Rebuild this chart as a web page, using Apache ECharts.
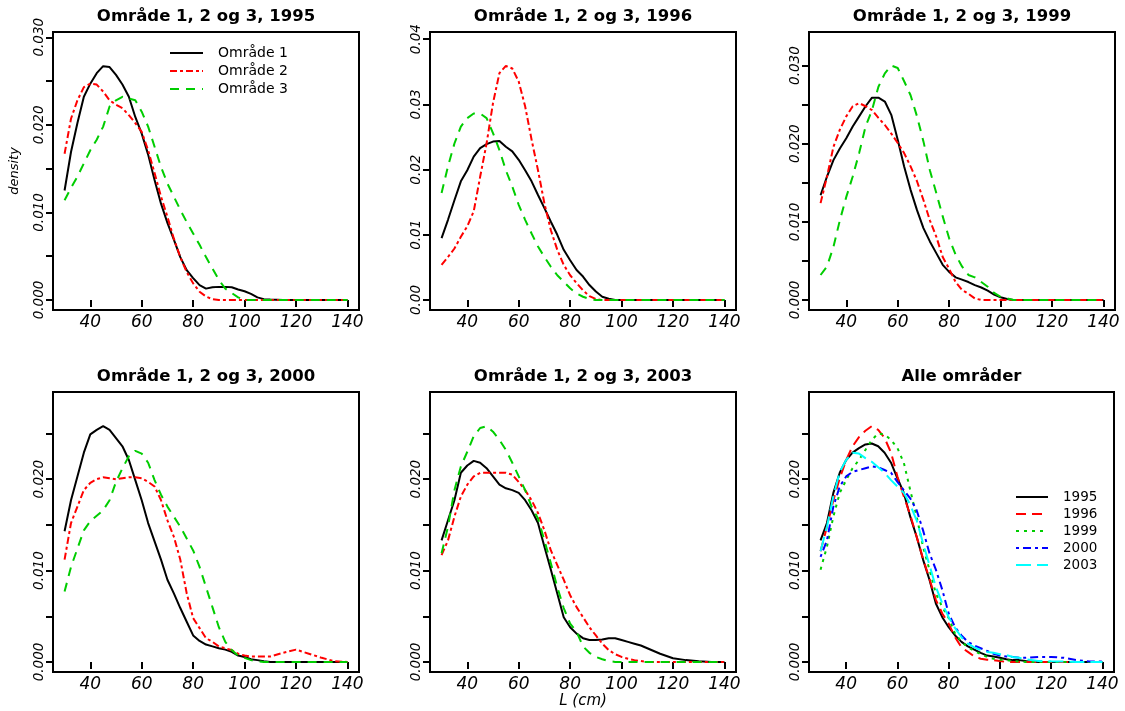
<!DOCTYPE html>
<html><head><meta charset="utf-8">
<script src="https://cdn.jsdelivr.net/npm/echarts@6/dist/echarts.min.js"></script>
<style>html,body{margin:0;padding:0;background:#fff}#c{width:1125px;height:711px}</style>
</head><body><div id="c"></div><script>
// L (cm) sample positions
const xs = [30,32.5,35,37.5,40,42.5,45,47.5,50,52.5,55,57.5,60,62.5,65,67.5,70,72.5,75,77.5,80,82.5,85,87.5,90,92.5,95,97.5,100,102.5,105,107.5,110,115,120,125,130,135,140];

// 1995
const d1995_o1 = [0.0125,0.0169,0.0202,0.0232,0.0247,0.0259,0.0267,0.0266,0.0257,0.0246,0.0232,0.0209,0.0190,0.0166,0.0137,0.0110,0.0088,0.0069,0.0049,0.0034,0.0025,0.0017,0.0013,0.00145,0.0015,0.0015,0.00145,0.0012,0.0010,0.0007,0.0003,0.0001,0.00005,0,0,0,0,0,0];
const d1995_o2 = [0.0167,0.0207,0.0228,0.0243,0.0247,0.0246,0.0238,0.0228,0.0223,0.0219,0.0211,0.0202,0.0192,0.0171,0.0145,0.0118,0.0095,0.0070,0.0049,0.0032,0.0019,0.00095,0.0004,0.0001,0,0,0,0,0,0,0,0,0,0,0,0,0,0,0];
const d1995_o3 = [0.0114,0.0128,0.0141,0.0156,0.0171,0.0183,0.0198,0.0221,0.0228,0.0232,0.0230,0.0228,0.0215,0.0198,0.0175,0.0152,0.0133,0.0118,0.0103,0.0089,0.0076,0.0063,0.0049,0.0036,0.0023,0.0013,0.0008,0.0003,0,0,0,0,0,0,0,0,0,0,0];
// 1996
const d1996_o1 = [0.0095,0.0123,0.0153,0.0182,0.0199,0.0220,0.0233,0.0239,0.0243,0.0244,0.0235,0.0228,0.0215,0.0199,0.0182,0.0161,0.0141,0.0120,0.0100,0.0077,0.0061,0.0046,0.0036,0.0023,0.0013,0.0005,0.0002,0,0,0,0,0,0,0,0,0,0,0,0];
const d1996_o2 = [0.0054,0.0066,0.0079,0.0097,0.0113,0.0136,0.0189,0.0240,0.0302,0.0348,0.0359,0.0355,0.0335,0.0297,0.0246,0.0199,0.0148,0.0107,0.0077,0.0054,0.0038,0.0026,0.0015,0.0006,0.00015,0,0,0,0,0,0,0,0,0,0,0,0,0,0];
const d1996_o3 = [0.0164,0.0205,0.0240,0.0266,0.0279,0.0286,0.0286,0.0279,0.0256,0.0230,0.0199,0.0174,0.0146,0.0123,0.0102,0.0082,0.0066,0.0051,0.0038,0.0028,0.0018,0.0010,0.0005,0.00015,0,0,0,0,0,0,0,0,0,0,0,0,0,0,0];
// 1999
const d1999_o1 = [0.0134,0.0158,0.0179,0.0194,0.0207,0.0222,0.0235,0.0248,0.0259,0.0259,0.0254,0.0237,0.0205,0.0171,0.0141,0.0115,0.0092,0.0075,0.0060,0.0045,0.0036,0.0029,0.0026,0.0023,0.0019,0.0016,0.0012,0.0007,0.00035,0.00013,0,0,0,0,0,0,0,0,0];
const d1999_o2 = [0.0124,0.0158,0.0196,0.0218,0.0235,0.0248,0.0252,0.0248,0.0243,0.0233,0.0224,0.0213,0.0201,0.0188,0.0171,0.0152,0.0128,0.0102,0.0081,0.0055,0.0040,0.0023,0.0013,0.0008,0.0002,0,0,0,0,0,0,0,0,0,0,0,0,0,0];
const d1999_o3 = [0.0032,0.0043,0.0068,0.0102,0.0132,0.0158,0.0188,0.0222,0.0243,0.0273,0.0290,0.0300,0.0297,0.0280,0.0262,0.0235,0.0203,0.0166,0.0137,0.0107,0.0079,0.0058,0.0043,0.0032,0.0029,0.0023,0.0017,0.0009,0.0004,0.0002,0,0,0,0,0,0,0,0,0];
// 2000
const d2000_o1 = [0.0143,0.0177,0.0203,0.0229,0.0249,0.0254,0.0258,0.0254,0.0245,0.0236,0.0221,0.0199,0.0177,0.0152,0.0132,0.0112,0.0090,0.0075,0.0059,0.0044,0.0029,0.0023,0.0019,0.0017,0.0015,0.00135,0.0011,0.0007,0.00055,0.0003,0.0002,0.00007,0,0,0,0,0,0,0];
const d2000_o2 = [0.0112,0.0152,0.0170,0.0188,0.0196,0.0200,0.0202,0.0201,0.0200,0.0201,0.0202,0.0202,0.0201,0.0197,0.0192,0.0177,0.0155,0.0137,0.0112,0.0075,0.0048,0.0037,0.0026,0.0022,0.0017,0.0015,0.0013,0.0009,0.0007,0.0006,0.0006,0.0006,0.0006,0.0010,0.00135,0.0009,0.00045,0.00007,0];
const d2000_o3 = [0.0077,0.0104,0.0124,0.0144,0.0154,0.0160,0.0166,0.0177,0.0197,0.0212,0.0225,0.0231,0.0228,0.0218,0.0199,0.0183,0.0170,0.0159,0.0148,0.0135,0.0122,0.0104,0.0082,0.0060,0.0038,0.0022,0.0013,0.0007,0.00045,0.0002,0.00007,0,0,0,0,0,0,0,0];
// 2003
const d2003_o1 = [0.0133,0.0155,0.0177,0.0207,0.0215,0.0220,0.0218,0.0212,0.0203,0.0194,0.0190,0.0188,0.0185,0.0177,0.0166,0.0152,0.0126,0.0101,0.0075,0.0049,0.0038,0.0031,0.0026,0.0024,0.0024,0.00245,0.0026,0.0026,0.0024,0.0022,0.0020,0.0018,0.0015,0.0009,0.0004,0.0002,0.00007,0,0];
const d2003_o2 = [0.0117,0.0133,0.0159,0.0181,0.0194,0.0203,0.0207,0.0207,0.0207,0.0207,0.0207,0.0205,0.0197,0.0188,0.0177,0.0163,0.0144,0.0122,0.0106,0.0090,0.0073,0.0060,0.0049,0.0038,0.0029,0.0020,0.0013,0.00085,0.00055,0.00035,0.0002,0.0001,0,0,0,0,0,0,0];
const d2003_o3 = [0.0119,0.0148,0.0188,0.0214,0.0230,0.0247,0.0256,0.0258,0.0252,0.0243,0.0232,0.0218,0.0203,0.0188,0.0170,0.0157,0.0133,0.0108,0.0082,0.0059,0.0042,0.0033,0.0017,0.0010,0.00055,0.0003,0.0001,0,0,0,0,0,0,0,0,0,0,0,0];
// all areas
const all1995 = [0.0133,0.0152,0.0185,0.0207,0.0221,0.0229,0.0234,0.0238,0.0239,0.0236,0.0229,0.0218,0.0201,0.0185,0.0159,0.0137,0.0112,0.0090,0.0064,0.0049,0.0038,0.0029,0.0022,0.0017,0.00135,0.0010,0.0007,0.0006,0.00045,0.0003,0.0002,0.0002,0.0001,0,0,0,0,0,0];
const all1996 = [0.0121,0.0148,0.0177,0.0201,0.0221,0.0236,0.0246,0.0253,0.0258,0.0254,0.0245,0.0229,0.0203,0.0181,0.0161,0.0137,0.0113,0.0091,0.0068,0.0053,0.0042,0.0027,0.0016,0.0011,0.0006,0.00035,0.00025,0.0002,0.0001,0,0,0,0,0,0,0,0,0,0];
const all1999 = [0.0101,0.0126,0.0159,0.0185,0.0199,0.0212,0.0221,0.0232,0.0243,0.0250,0.0249,0.0243,0.0234,0.0218,0.0188,0.0159,0.0126,0.0101,0.0075,0.0060,0.0048,0.0031,0.0022,0.0016,0.0012,0.00085,0.00055,0.00035,0.00025,0.0002,0.0001,0.00005,0,0,0,0,0,0,0];
const all2000 = [0.0115,0.0133,0.0170,0.0192,0.0203,0.0208,0.0210,0.0212,0.0214,0.0213,0.0210,0.0207,0.0197,0.0188,0.0179,0.0166,0.0144,0.0119,0.0101,0.0079,0.0053,0.0038,0.0029,0.0022,0.0018,0.0015,0.0012,0.0009,0.0007,0.0006,0.00055,0.00045,0.00045,0.00055,0.00055,0.00045,0.0002,0.00005,0.00005];
const all2003 = [0.0121,0.0148,0.0181,0.0208,0.0221,0.0229,0.0228,0.0223,0.0219,0.0213,0.0207,0.0199,0.0192,0.0185,0.0172,0.0155,0.0130,0.0106,0.0082,0.0064,0.0049,0.0037,0.0027,0.0020,0.0016,0.0013,0.0011,0.0010,0.00085,0.00075,0.00055,0.00045,0.0003,0.0001,0.00007,0.00005,0,0,0];

const panelTitles = ['Område 1, 2 og 3, 1995','Område 1, 2 og 3, 1996','Område 1, 2 og 3, 1999','Område 1, 2 og 3, 2000','Område 1, 2 og 3, 2003','Alle områder'];
const areaNames = ['Område 1','Område 2','Område 3'];
const yearNames = ['1995','1996','1999','2000','2003'];
const xTicks = [40,60,80,100,120,140];
const yTicks1995 = [0,0.005,0.010,0.015,0.020,0.025,0.030];
const yLabels1995 = [0,0.010,0.020,0.030];
const yTicks1996 = [0,0.01,0.02,0.03,0.04];
const yLabels1996 = [0,0.01,0.02,0.03,0.04];
const yTicksLow = [0,0.005,0.010,0.015,0.020,0.025];
const yLabelsLow = [0,0.010,0.020];

const panelAreaData = [
  [d1995_o1,d1995_o2,d1995_o3],
  [d1996_o1,d1996_o2,d1996_o3],
  [d1999_o1,d1999_o2,d1999_o3],
  [d2000_o1,d2000_o2,d2000_o3],
  [d2003_o1,d2003_o2,d2003_o3]
];
const allData = [all1995,all1996,all1999,all2000,all2003];

// styling / layout
const areaStyles = [
  {color:'#000000', type:'solid'},
  {color:'#FF0000', type:[7,3,3,3]},
  {color:'#00CD00', type:[9,7]}
];
const yearStyles = [
  {color:'#000000', type:'solid'},
  {color:'#FF0000', type:[10,6]},
  {color:'#00CD00', type:[3,5]},
  {color:'#0000FF', type:[3,4,8,4]},
  {color:'#00FFFF', type:[15,6]}
];
const grids = [
  {left:53, top:32, width:306, height:278},
  {left:430, top:32, width:306, height:278},
  {left:809, top:32, width:306, height:278},
  {left:53, top:392, width:306, height:280},
  {left:430, top:392, width:306, height:280},
  {left:809, top:392, width:305, height:280}
];
const yRanges = [
  {min:-0.00114, max:0.0306, ticks:yTicks1995, labels:yLabels1995, dec:3},
  {min:-0.00153, max:0.0411, ticks:yTicks1996, labels:yLabels1996, dec:2},
  {min:-0.00128, max:0.0343, ticks:yTicks1995, labels:yLabels1995, dec:3},
  {min:-0.0011, max:0.02954, ticks:yTicksLow, labels:yLabelsLow, dec:3},
  {min:-0.0011, max:0.02954, ticks:yTicksLow, labels:yLabelsLow, dec:3},
  {min:-0.0011, max:0.02954, ticks:yTicksLow, labels:yLabelsLow, dec:3}
];

const FONT = 'DejaVu Sans';
const gridOpt = [], xAxisOpt = [], yAxisOpt = [], seriesOpt = [], graphicOpt = [];

grids.forEach((g, i) => {
  gridOpt.push(Object.assign({show:true, borderColor:'#000', borderWidth:2, backgroundColor:'rgba(0,0,0,0)'}, g));
  const xa = {
    type:'value', gridIndex:i, min:25.5, max:144.5,
    axisLine:{show:false}, splitLine:{show:false},
    axisTick:{show:true, customValues:xTicks, length:7, lineStyle:{color:'#000', width:2}},
    axisLabel:{customValues:xTicks, fontFamily:FONT, fontStyle:'italic', fontSize:17, color:'#000', margin:4}
  };
  if (i === 4) {
    xa.name = 'L (cm)'; xa.nameLocation = 'middle'; xa.nameGap = 22;
    xa.nameTextStyle = {fontFamily:FONT, fontStyle:'italic', fontSize:15, color:'#000'};
  }
  xAxisOpt.push(xa);
  const yr = yRanges[i];
  const ya = {
    type:'value', gridIndex:i, min:yr.min, max:yr.max,
    axisLine:{show:false}, splitLine:{show:false},
    axisTick:{show:true, customValues:yr.ticks, length:7, lineStyle:{color:'#000', width:2}},
    axisLabel:{customValues:yr.labels, rotate:90, fontFamily:FONT, fontStyle:'italic', fontSize:13.5, color:'#000', margin:7,
      formatter:(v) => Number(v).toFixed(yr.dec)}
  };
  if (i === 0) {
    ya.name = 'density'; ya.nameLocation = 'middle'; ya.nameGap = 32; ya.nameRotate = 90;
    ya.nameTextStyle = {fontFamily:FONT, fontStyle:'italic', fontSize:13, color:'#000'};
  }
  yAxisOpt.push(ya);
  graphicOpt.push({
    type:'text', x: g.left + g.width/2, y: g.top - 15,
    style:{text: panelTitles[i], fontFamily:FONT, fontWeight:'bold', fontSize:16.5, fill:'#000', align:'center', verticalAlign:'middle'}
  });
});

panelAreaData.forEach((arr, p) => {
  arr.forEach((vals, k) => {
    seriesOpt.push({
      type:'line', name: areaNames[k], xAxisIndex:p, yAxisIndex:p,
      data: xs.map((x, j) => [x, vals[j]]),
      showSymbol:false, symbol:'circle', animation:false, silent:true,
      lineStyle:{color:areaStyles[k].color, width:2, type:areaStyles[k].type},
      itemStyle:{color:areaStyles[k].color}
    });
  });
});
allData.forEach((vals, k) => {
  seriesOpt.push({
    type:'line', name: yearNames[k], xAxisIndex:5, yAxisIndex:5,
    data: xs.map((x, j) => [x, vals[j]]),
    showSymbol:false, symbol:'circle', animation:false, silent:true,
    lineStyle:{color:yearStyles[k].color, width:2, type:yearStyles[k].type},
    itemStyle:{color:yearStyles[k].color}
  });
});

const chart = echarts.init(document.getElementById('c'), null, {renderer:'canvas'});
chart.setOption({
  backgroundColor:'#fff',
  animation:false,
  grid: gridOpt, xAxis: xAxisOpt, yAxis: yAxisOpt, series: seriesOpt,
  graphic: graphicOpt,
  legend: [
    {data: areaNames, left:169, top:46, orient:'vertical', padding:0, itemWidth:33, itemHeight:14, itemGap:4,
     selectedMode:false, itemStyle:{opacity:0},
     textStyle:{fontFamily:FONT, fontSize:14, color:'#000', padding:[0,0,0,10]}},
    {data: yearNames, left:1015, top:490, orient:'vertical', padding:0, itemWidth:32, itemHeight:12, itemGap:3,
     selectedMode:false, itemStyle:{opacity:0},
     textStyle:{fontFamily:FONT, fontSize:13.5, lineHeight:13, color:'#000', padding:[0,0,0,10]}}
  ]
});
</script></body></html>
